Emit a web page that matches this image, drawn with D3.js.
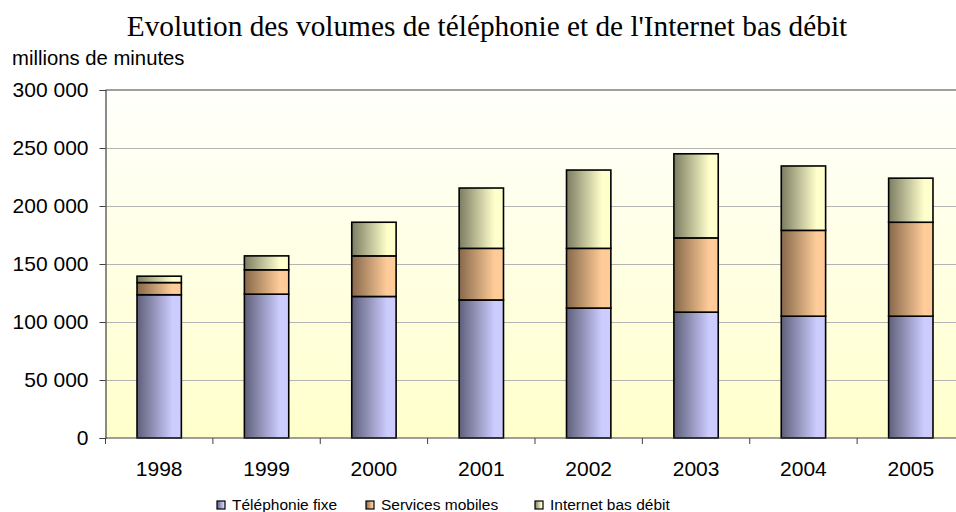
<!DOCTYPE html>
<html><head><meta charset="utf-8">
<script src="https://cdn.jsdelivr.net/npm/d3@7"></script>
<style>html,body{margin:0;padding:0;background:#fff;}svg{display:block;}</style>
</head><body>
<svg id="chart" width="956" height="512"></svg>
<script>
const years = ["1998","1999","2000","2001","2002","2003","2004","2005"];
const telephonieFixe = [123500,124000,122000,119000,112000,108500,105000,105000];
const servicesMobiles = [10500,21000,35000,44500,51500,64000,74000,81000];
const internetBasDebit = [5500,12000,29000,52000,67500,72500,55500,38000];
const seriesNames = ["Téléphonie fixe","Services mobiles","Internet bas débit"];
const yTicks = [0,50000,100000,150000,200000,250000,300000];
const title = "Evolution des volumes de téléphonie et de l'Internet bas débit";
const yUnit = "millions de minutes";

const colors = [
  {dark:"#5f5f7a", light:"#ccccff"},
  {dark:"#86684a", light:"#ffcc99"},
  {dark:"#7c7c62", light:"#ffffcc"}
];

const svg = d3.select("#chart");
const plot = {left:105.5, right:964.5, top:90, bottom:438};

const defs = svg.append("defs");
const bg = defs.append("linearGradient").attr("id","bg").attr("x1",0).attr("y1",0).attr("x2",0).attr("y2",1);
bg.append("stop").attr("offset","0%").attr("stop-color","#fffffc");
bg.append("stop").attr("offset","100%").attr("stop-color","#ffffcc");
colors.forEach((c,i)=>{
  const g = defs.append("linearGradient").attr("id","g"+i).attr("x1",0).attr("y1",0).attr("x2",1).attr("y2",0);
  g.append("stop").attr("offset","0%").attr("stop-color",c.dark);
  g.append("stop").attr("offset","80%").attr("stop-color",c.light);
  g.append("stop").attr("offset","100%").attr("stop-color",c.light);
});

const x = d3.scaleBand().domain(years).range([plot.left, plot.right]).padding(0);
const y = d3.scaleLinear().domain([0,300000]).range([plot.bottom, plot.top]);
const barW = x.bandwidth()*0.413;

svg.append("rect").attr("x",plot.left).attr("y",plot.top)
  .attr("width",plot.right-plot.left).attr("height",plot.bottom-plot.top)
  .attr("fill","url(#bg)");

svg.append("g").selectAll("line").data(yTicks.filter(t=>t>0 && t<300000)).join("line")
  .attr("x1",plot.left).attr("x2",plot.right)
  .attr("y1",d=>y(d)+0.5).attr("y2",d=>y(d)+0.5)
  .attr("stroke","#b4b4b4").attr("stroke-width",1);
svg.append("line").attr("x1",plot.left).attr("x2",plot.right)
  .attr("y1",plot.top).attr("y2",plot.top).attr("stroke","#7f7f7f").attr("stroke-width",1.5);

const table = years.map((yr,i)=>({year:yr, s0:telephonieFixe[i], s1:servicesMobiles[i], s2:internetBasDebit[i]}));
const stack = d3.stack().keys(["s0","s1","s2"])(table);

svg.append("g").selectAll("g").data(stack).join("g")
  .attr("fill",(d,i)=>"url(#g"+i+")")
  .selectAll("rect").data(d=>d).join("rect")
  .attr("x",d=>x(d.data.year)+x.bandwidth()/2-barW/2)
  .attr("width",barW)
  .attr("y",d=>y(d[1]))
  .attr("height",d=>y(d[0])-y(d[1]))
  .attr("stroke","#000").attr("stroke-width",1.6);

const yAxis = d3.axisLeft(y).tickValues(yTicks).tickSize(6).tickPadding(11)
  .tickFormat(d=>d3.format(",")(d).replace(/,/g," "));
const gy = svg.append("g").attr("transform",`translate(${plot.left},0)`).call(yAxis);
gy.select(".domain").attr("stroke","#404040").attr("stroke-width",1.2);
gy.selectAll(".tick line").attr("stroke","#404040");
gy.selectAll("text").attr("font-family","'Liberation Sans', Arial, sans-serif").attr("font-size",21).attr("fill","#000");

const gx = svg.append("g").attr("transform",`translate(0,${plot.bottom})`);
gx.append("line").attr("x1",plot.left).attr("x2",plot.right).attr("y1",0).attr("y2",0)
  .attr("stroke","#404040").attr("stroke-width",1.2);
const bounds = years.map(yr=>x(yr));
gx.selectAll("line.tk").data(bounds).join("line").attr("class","tk")
  .attr("x1",d=>d).attr("x2",d=>d).attr("y1",0).attr("y2",6).attr("stroke","#404040");
gx.selectAll("text").data(years).join("text")
  .attr("x",d=>x(d)+x.bandwidth()/2).attr("y",38)
  .attr("text-anchor","middle")
  .attr("font-family","'Liberation Sans', Arial, sans-serif").attr("font-size",21).attr("fill","#000")
  .text(d=>d);

svg.append("text").attr("x",487).attr("y",36).attr("text-anchor","middle")
  .attr("font-family","'Liberation Serif', 'Times New Roman', serif").attr("font-size",29.3).attr("fill","#000")
  .text(title);
svg.append("text").attr("x",12).attr("y",65)
  .attr("font-family","'Liberation Sans', Arial, sans-serif").attr("font-size",20.3).attr("fill","#000")
  .text(yUnit);

const legX = [217, 366, 535];
const leg = svg.append("g");
seriesNames.forEach((n,i)=>{
  leg.append("rect").attr("x",legX[i]).attr("y",501).attr("width",8).attr("height",8)
    .attr("fill","url(#g"+i+")").attr("stroke","#000").attr("stroke-width",1.2);
  leg.append("text").attr("x",legX[i]+15).attr("y",509.5)
    .attr("font-family","'Liberation Sans', Arial, sans-serif").attr("font-size",15.5).attr("fill","#000")
    .text(n);
});
</script>
</body></html>
